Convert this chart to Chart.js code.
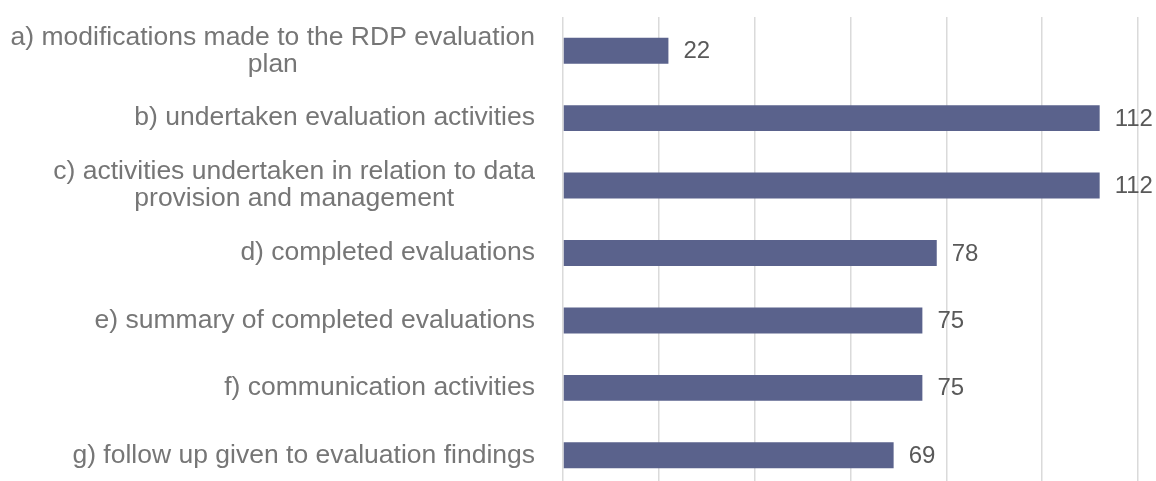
<!DOCTYPE html>
<html>
<head>
<meta charset="utf-8">
<script src="https://cdn.jsdelivr.net/npm/chart.js@4"></script>
<style>
  html, body { margin: 0; padding: 0; background: #fff; overflow: hidden; }
</style>
</head>
<body>
<canvas id="chart" width="1156" height="490"></canvas>
<script>
// categories (multi-line where the original wraps)
const categories = [
  ["a) modifications made to the RDP evaluation", "plan"],
  ["b) undertaken evaluation activities"],
  ["c) activities undertaken in relation to data", "provision and management"],
  ["d) completed evaluations"],
  ["e) summary of completed evaluations"],
  ["f) communication activities"],
  ["g) follow up given to evaluation findings"]
];
const values = [22, 112, 112, 78, 75, 75, 69];
const xMax = 120;
const xStep = 20;

const FONT = '"Liberation Sans", Arial, sans-serif';

// category labels: block right-aligned at the axis, lines centred inside the block
const categoryLabels = {
  id: 'categoryLabels',
  afterDraw(chart) {
    const ctx = chart.ctx;
    const yScale = chart.scales.y;
    const right = chart.chartArea.left - 28;
    const lineH = 27;
    ctx.save();
    ctx.font = '26.5px ' + FONT;
    ctx.fillStyle = '#767676';
    ctx.textAlign = 'center';
    ctx.textBaseline = 'middle';
    categories.forEach(function (lines, i) {
      const cy = yScale.getPixelForTick(i);
      let widest = 0;
      lines.forEach(function (l) { widest = Math.max(widest, ctx.measureText(l).width); });
      const cx = right - widest / 2;
      const top = cy - (lines.length - 1) * lineH / 2;
      lines.forEach(function (l, j) {
        ctx.fillText(l, cx, top + j * lineH);
      });
    });
    ctx.restore();
  }
};

// value labels at the bar ends
const valueLabels = {
  id: 'valueLabels',
  afterDatasetsDraw(chart) {
    const ctx = chart.ctx;
    const meta = chart.getDatasetMeta(0);
    ctx.save();
    ctx.font = '24px ' + FONT;
    ctx.fillStyle = '#595959';
    ctx.textAlign = 'left';
    ctx.textBaseline = 'middle';
    meta.data.forEach(function (bar, i) {
      ctx.fillText(String(values[i]), bar.x + 15, bar.y + 1);
    });
    ctx.restore();
  }
};

new Chart(document.getElementById('chart'), {
  type: 'bar',
  data: {
    labels: categories.map(function (c) { return c.join(' '); }),
    datasets: [{
      data: values,
      backgroundColor: '#5a628c',
      categoryPercentage: 1,
      barPercentage: 0.385
    }]
  },
  options: {
    indexAxis: 'y',
    responsive: false,
    animation: false,
    layout: { padding: { top: 17, right: 18, bottom: 1, left: 0 } },
    plugins: { legend: { display: false }, tooltip: { enabled: false } },
    scales: {
      x: {
        min: 0,
        max: xMax,
        ticks: { display: false, stepSize: xStep },
        grid: { color: '#dadada', lineWidth: 1.5, drawTicks: false },
        border: { display: false }
      },
      y: {
        afterFit: function (scale) { scale.width = 563; },
        ticks: { display: false },
        grid: { display: false, drawTicks: false },
        border: { display: false }
      }
    }
  },
  plugins: [valueLabels, categoryLabels]
});
</script>
</body>
</html>
